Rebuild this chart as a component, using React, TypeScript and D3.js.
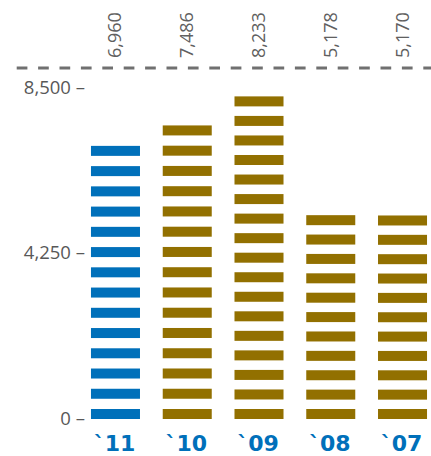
import React from "react";
import * as d3 from "d3";

const categories = ["`11", "`10", "`09", "`08", "`07"];
const values = [6960, 7486, 8233, 5178, 5170];
const highlight = [true, false, false, false, false];
const yTicks = [0, 4250, 8500];
const unitPerStripe = 500;

const W = 431;
const H = 456;
const BLUE = "#0070BA";
const GOLD = "#927000";

export default function App() {
  const x = d3
    .scaleBand<string>()
    .domain(categories)
    .range([79.6, 438.4])
    .paddingInner(0.317)
    .paddingOuter(0.1585);
  const y = d3.scaleLinear().domain([0, 8500]).range([418, 87.5]);
  const fmt = d3.format(",");
  const stripeH = 10;

  return (
    <svg
      width={W}
      height={H}
      style={{ position: "absolute", left: 0, top: 0, background: "#fff" }}
    >
      <line
        x1={16.7}
        x2={W}
        y1={68}
        y2={68}
        stroke="#707070"
        strokeWidth={3}
        strokeDasharray="10.7 10.7"
      />
      {yTicks.map((t) => (
        <text
          key={t}
          x={85}
          y={y(t)}
          dy="0.36em"
          textAnchor="end"
          fontFamily="'Open Sans', sans-serif"
          fontSize={18.5}
          fill="#585858"
        >
          {fmt(t) + " \u2013"}
        </text>
      ))}
      {categories.map((c, i) => {
        const v = values[i];
        const x0 = x(c)!;
        const bw = x.bandwidth();
        const top = y(v) - 1.5;
        const bottom = y(0) + 1;
        const n = Math.ceil(v / unitPerStripe);
        const step = (bottom - top - stripeH) / (n - 1);
        const color = highlight[i] ? BLUE : GOLD;
        const cx = x0 + bw / 2;
        return (
          <g key={c}>
            {d3.range(n).map((k) => (
              <rect
                key={k}
                x={x0}
                y={top + k * step}
                width={bw}
                height={stripeH}
                fill={color}
              />
            ))}
            <text
              transform={`translate(${cx + 6},58) rotate(-90)`}
              textAnchor="start"
              fontFamily="'Open Sans', sans-serif"
              fontSize={18}
              fill="#606060"
            >
              {fmt(v)}
            </text>
            <text
              x={cx - 1}
              y={451}
              textAnchor="middle"
              fontFamily="'DejaVu Sans', sans-serif"
              fontWeight="bold"
              fontSize={22}
              fill={BLUE}
            >
              {c}
            </text>
          </g>
        );
      })}
    </svg>
  );
}
